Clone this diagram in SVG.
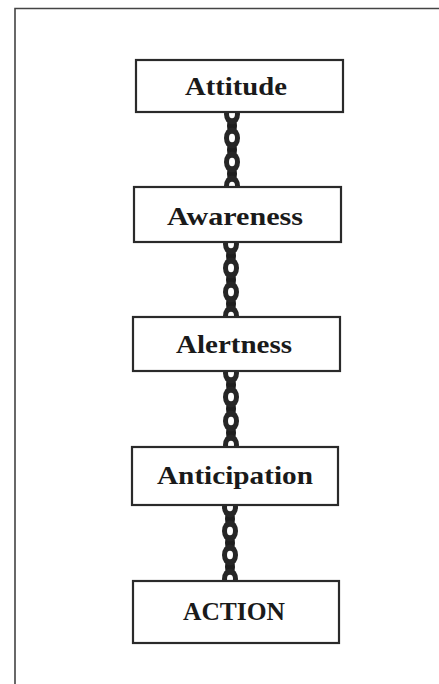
<svg xmlns="http://www.w3.org/2000/svg" xmlns:xlink="http://www.w3.org/1999/xlink" width="439" height="684" viewBox="0 0 439 684">
<style>
.frame{fill:none;stroke:#444;stroke-width:1.6}
.box{fill:#fff;stroke:#2a2a2a;stroke-width:2.2}
.lbl{font-family:"Liberation Serif","DejaVu Serif",serif;font-weight:bold;font-size:26px;fill:#1a1a1a;text-anchor:middle}
.ring{fill:#262626}
.hole{fill:#fff}
.edge{fill:#1e1e1e}
</style>
<defs>
<g id="chain">
<ellipse class="edge" cx="0" cy="14" rx="5" ry="8.5"/>
<ellipse class="edge" cx="0" cy="38" rx="5" ry="8.5"/>
<ellipse class="edge" cx="0" cy="62" rx="5" ry="8.5"/>
<ellipse class="ring" cx="0" cy="2" rx="8" ry="10.5"/>
<ellipse class="hole" cx="0" cy="2" rx="3" ry="4.2"/>
<ellipse class="ring" cx="0" cy="26" rx="8" ry="10.5"/>
<ellipse class="hole" cx="0" cy="26" rx="3" ry="4.2"/>
<ellipse class="ring" cx="0" cy="50" rx="8" ry="10.5"/>
<ellipse class="hole" cx="0" cy="50" rx="3" ry="4.2"/>
<ellipse class="ring" cx="0" cy="74" rx="8" ry="10.5"/>
<ellipse class="hole" cx="0" cy="74" rx="3" ry="4.2"/>
</g>
</defs>
<rect width="439" height="684" fill="#fff"/>
<path class="frame" d="M15,684 V8.5 H439"/>
<g id="connectors">
<use xlink:href="#chain" transform="translate(232,112)"/>
<use xlink:href="#chain" transform="translate(231,242)"/>
<use xlink:href="#chain" transform="translate(231,371)"/>
<use xlink:href="#chain" transform="translate(230,505)"/>
</g>
<g id="attitude">
<rect class="box" x="136" y="60" width="207" height="52"/>
<text class="lbl" x="236" y="95" textLength="102" lengthAdjust="spacingAndGlyphs">Attitude</text>
</g>
<g id="awareness">
<rect class="box" x="134" y="187" width="207" height="55"/>
<text class="lbl" x="235" y="225" textLength="136" lengthAdjust="spacingAndGlyphs">Awareness</text>
</g>
<g id="alertness">
<rect class="box" x="133" y="317" width="207" height="54"/>
<text class="lbl" x="234" y="353" textLength="116" lengthAdjust="spacingAndGlyphs">Alertness</text>
</g>
<g id="anticipation">
<rect class="box" x="132" y="447" width="206" height="58"/>
<text class="lbl" x="235" y="484" textLength="156" lengthAdjust="spacingAndGlyphs">Anticipation</text>
</g>
<g id="action">
<rect class="box" x="133" y="581" width="206" height="62"/>
<text class="lbl" x="234" y="620" textLength="102" lengthAdjust="spacingAndGlyphs">ACTION</text>
</g>
</svg>
